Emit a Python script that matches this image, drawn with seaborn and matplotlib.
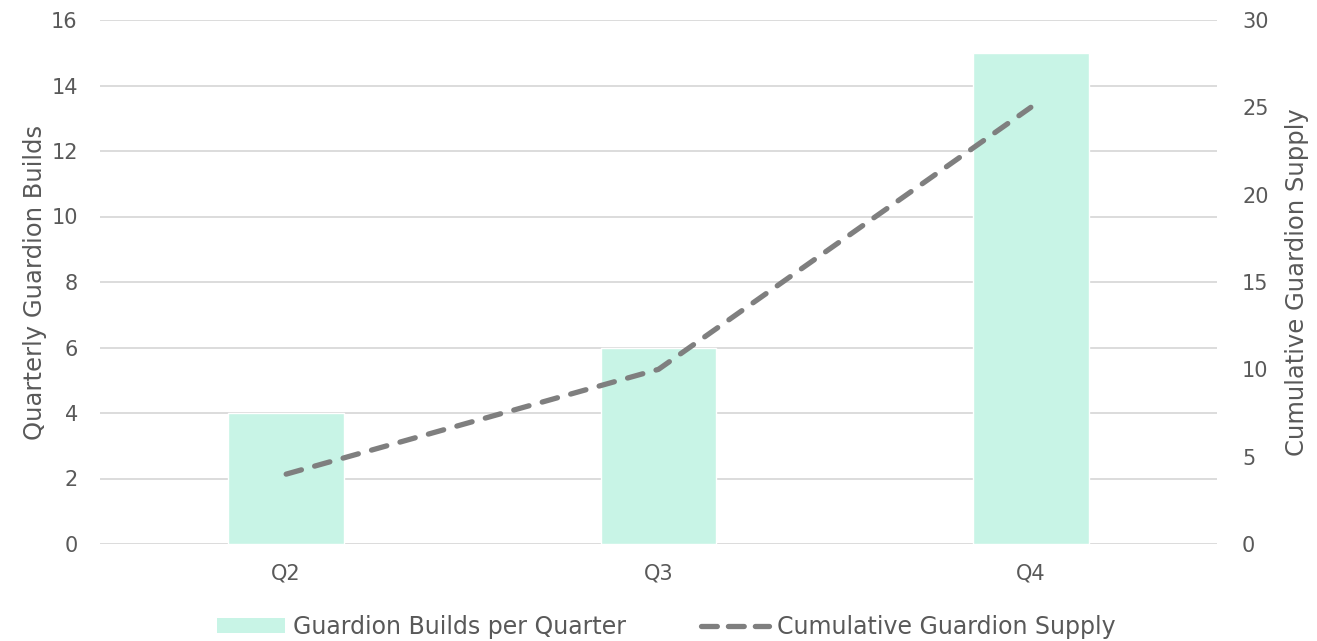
import matplotlib
matplotlib.use("Agg")
import matplotlib.pyplot as plt
import seaborn as sns
import pandas as pd
from matplotlib.patches import Patch
from matplotlib.lines import Line2D

quarters = ["Q2", "Q3", "Q4"]
builds = [4, 6, 15]
cumulative = [4, 10, 25]
left_ticks = [0, 2, 4, 6, 8, 10, 12, 14, 16]
right_ticks = [0, 5, 10, 15, 20, 25, 30]

sns.set_theme(style="white")
plt.rcParams['font.family'] = ['DejaVu Sans']
TXT = "#595959"
BAR = "#c8f4e6"
LINE = "#7f7f7f"
GRID = "#d9d9d9"

df = pd.DataFrame({"quarter": quarters, "builds": builds, "cum": cumulative})

fig = plt.figure(figsize=(13.17, 6.41), dpi=100)
ax = fig.add_axes([100/1317, 1-544/641, 1117/1317, 524/641])
sns.barplot(data=df, x="quarter", y="builds", color=BAR, width=0.31, ax=ax,
            saturation=1, zorder=2)
ax.set_xlim(-0.5, 2.5)
ax.set_ylim(0, 16)
ax.set_yticks(left_ticks)
ax.yaxis.grid(True, color=GRID, linewidth=1.3, zorder=0)
ax.set_axisbelow(True)
for s in ax.spines.values():
    s.set_visible(False)
ax.tick_params(axis='both', length=0, labelsize=15, labelcolor=TXT)
ax.tick_params(axis='y', pad=16)
ax.tick_params(axis='x', pad=14)
ax.set_xlabel("")
ax.set_ylabel("Quarterly Guardion Builds", fontsize=17.5, color=TXT, labelpad=3)

ax2 = ax.twinx()
sns.lineplot(data=df, x="quarter", y="cum", ax=ax2, color=LINE, linewidth=3.8,
             linestyle=(0, (3.0, 2.6)), dash_capstyle="round", sort=False)
ax2.set_ylim(0, 30)
ax2.set_yticks(right_ticks)
for s in ax2.spines.values():
    s.set_visible(False)
ax2.tick_params(axis='y', length=0, labelsize=15, labelcolor=TXT, pad=18)
ax2.set_ylabel("Cumulative Guardion Supply", fontsize=17.5, color=TXT, labelpad=12)
ax2.grid(False)

handles = [Patch(facecolor=BAR, edgecolor='none', label="Guardion Builds per Quarter"),
           Line2D([0], [0], color=LINE, linewidth=3.8, linestyle=(0, (3.0, 2.1)),
                  dash_capstyle="round", label="Cumulative Guardion Supply")]
fig.legend(handles=handles, loc="lower center", bbox_to_anchor=(0.506, -0.03), ncol=2,
           frameon=False, fontsize=17, labelcolor=TXT, handlelength=2.85,
           handleheight=0.62, columnspacing=3.2, handletextpad=0.35)

fig.savefig("out.png", dpi=100)
